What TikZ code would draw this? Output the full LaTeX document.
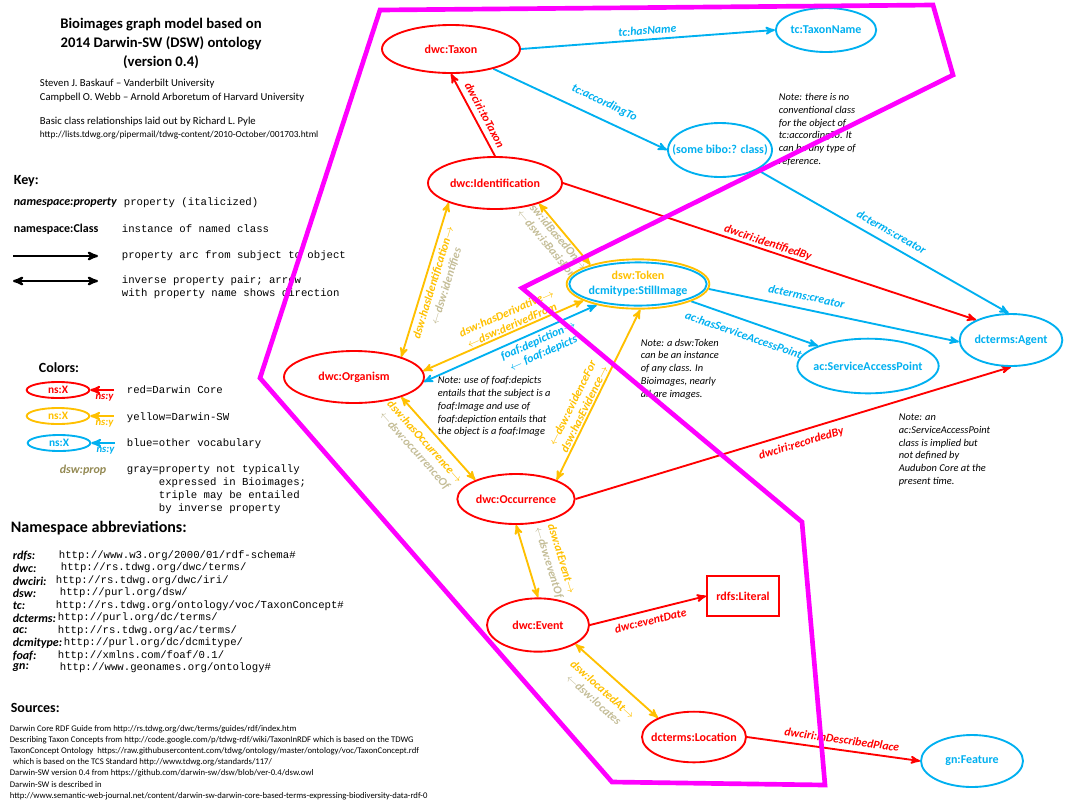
\documentclass[tikz,border=0pt]{standalone}
\usepackage{fontspec}
\setmainfont{Carlito}
\setmonofont{Liberation Mono}
\usetikzlibrary{arrows,%
                shapes.geometric,%
                backgrounds}

\definecolor{dwcred}{HTML}{FF0000}
\definecolor{dswyel}{HTML}{FFC000}
\definecolor{othblu}{HTML}{00B0F0}
\definecolor{entgray}{HTML}{C4BD97}
\definecolor{keygray}{HTML}{948A54}
\definecolor{areamag}{HTML}{FF00FF}

\begin{document}
\begin{tikzpicture}[x=0.75pt, y=-0.75pt, >=stealth', line width=1.3pt]
    \tikzstyle{cls}=[ellipse, draw, line width=1.4pt, inner sep=0pt, font=\fontsize{9}{11}\selectfont\bfseries]
    \tikzstyle{dwcc}=[cls, draw=dwcred, text=dwcred, fill=white]
    \tikzstyle{dswc}=[cls, draw=dswyel, text=dswyel, fill=white]
    \tikzstyle{othc}=[cls, draw=othblu, text=othblu, fill=white]
    \tikzstyle{lit}=[rectangle, draw=dwcred, text=dwcred, fill=white, line width=1.4pt, inner sep=0pt, font=\fontsize{9}{11}\selectfont\bfseries]
    \tikzstyle{parc}=[line width=1.4pt]
    \tikzstyle{prop}=[font=\fontsize{8.8}{10}\selectfont\bfseries\itshape, inner sep=1pt, align=center]
    \tikzstyle{note}=[font=\fontsize{7.8}{9.6}\selectfont\itshape, align=left, anchor=west, inner sep=0pt]
    \tikzstyle{mono}=[font=\fontsize{8}{9.75}\selectfont\ttfamily, align=left, anchor=west, inner sep=0pt]
    \tikzstyle{head}=[font=\fontsize{10.5}{12}\selectfont\bfseries, anchor=west, inner sep=0pt]
    \tikzstyle{small}=[font=\fontsize{8}{10.5}\selectfont, anchor=west, inner sep=0pt]
    \tikzstyle{nspre}=[font=\fontsize{9}{10}\selectfont\bfseries\itshape, anchor=west, inner sep=0pt]
    \tikzstyle{keyell}=[ellipse, draw, line width=1.4pt, inner sep=0pt, minimum width=47pt, minimum height=12pt, font=\fontsize{8.5}{10}\selectfont\bfseries]
    \tikzstyle{nsy}=[font=\fontsize{8}{9}\selectfont\bfseries\itshape, inner sep=0pt, below=2.5pt, pos=0.4]

    \useasboundingbox (0,0) rectangle (1074,808);

    % title and credits
    \node[font=\fontsize{11}{14.25}\selectfont\bfseries, align=center] (title) at (161,43) {Bioimages graph model based on\\2014 Darwin-SW (DSW) ontology\\(version 0.4)};
    \node[small] (auth1) at (39,84) {Steven J. Baskauf -- Vanderbilt University};
    \node[small] (auth2) at (39,98) {Campbell O. Webb -- Arnold Arboretum of Harvard University};
    \node[small] (pyle) at (39,122) {Basic class relationships laid out by Richard L. Pyle};
    \node[small, font=\fontsize{7}{8}\selectfont] (pyleurl) at (39,135) {http://lists.tdwg.org/pipermail/tdwg-content/2010-October/001703.html};

    % key
    \node[head] (keyhd) at (13,181) {Key:};
    \node[nspre] (kprop) at (13,203) {namespace:property};
    \node[mono] (kproptxt) at (123,203) {property (italicized)};
    \node[nspre, font=\fontsize{9}{11}\selectfont\bfseries] (kcls) at (13,229) {namespace:Class};
    \node[mono] (kclstxt) at (121,229) {instance of named class};
    \coordinate (karc1) at (13,256);
    \coordinate (karc2) at (98,256);
    \draw[->, line width=1.6pt] (karc1) -- (karc2);
    \node[mono] (karctxt) at (121,256) {property arc from subject to object};
    \coordinate (kinv1) at (13,281);
    \coordinate (kinv2) at (98,281);
    \draw[<->, line width=1.6pt] (kinv1) -- (kinv2);
    \node[mono] (kinvtxt) at (121,287.5) {inverse property pair; arrow\\with property name shows direction};

    % colours
    \node[head] (colhd) at (38,368) {Colors:};
    \node[keyell, dwcred] (rx) at (58,390) {ns:X};
    \coordinate (ry) at (114,390);
    \draw[->, dwcred, line width=1.5pt] (ry) -- node[nsy] {ns:y} (rx);
    \node[mono] (rtxt) at (126,390) {red=Darwin Core};
    \node[keyell, dswyel] (yx) at (58,416) {ns:X};
    \coordinate (yy) at (114,416);
    \draw[->, dswyel, line width=1.5pt] (yy) -- node[nsy] {ns:y} (yx);
    \node[mono] (ytxt) at (126,418) {yellow=Darwin-SW};
    \node[keyell, othblu] (bx) at (59,443) {ns:X};
    \coordinate (by) at (115,443);
    \draw[->, othblu, line width=1.5pt] (by) -- node[nsy] {ns:y} (bx);
    \node[mono] (btxt) at (126,444) {blue=other vocabulary};
    \node[nspre, keygray, anchor=center] (gprop) at (83,470) {dsw:prop};
    \node[mono] (gtxt) at (126,489) {gray=property not typically\\\phantom{gray=}expressed in Bioimages;\\\phantom{gray=}triple may be entailed\\\phantom{gray=}by inverse property};

    % namespaces
    \node[head, font=\fontsize{12}{14}\selectfont\bfseries] (nshd) at (10,528) {Namespace abbreviations:};
    \node[nspre] (prdfs) at (12,556) {rdfs:};
    \node[mono] (urdfs) at (58,556) {http://www.w3.org/2000/01/rdf-schema\#};
    \node[nspre] (pdwc) at (12,568) {dwc:};
    \node[mono] (udwc) at (60,568) {http://rs.tdwg.org/dwc/terms/};
    \node[nspre] (pdwciri) at (12,581) {dwciri:};
    \node[mono] (udwciri) at (55,581) {http://rs.tdwg.org/dwc/iri/};
    \node[nspre] (pdsw) at (12,593) {dsw:};
    \node[mono] (udsw) at (59,593) {http://purl.org/dsw/};
    \node[nspre] (ptc) at (12,606) {tc:};
    \node[mono] (utc) at (55,606) {http://rs.tdwg.org/ontology/voc/TaxonConcept\#};
    \node[nspre] (pdcterms) at (12,618) {dcterms:};
    \node[mono] (udcterms) at (57,618) {http://purl.org/dc/terms/};
    \node[nspre] (pac) at (12,631) {ac:};
    \node[mono] (uac) at (57,631) {http://rs.tdwg.org/ac/terms/};
    \node[nspre] (pdcmi) at (12,643) {dcmitype:};
    \node[mono] (udcmi) at (63,643) {http://purl.org/dc/dcmitype/};
    \node[nspre] (pfoaf) at (12,656) {foaf:};
    \node[mono] (ufoaf) at (57,656) {http://xmlns.com/foaf/0.1/};
    \node[nspre] (pgn) at (12,668) {gn:};
    \node[mono] (ugn) at (59,668) {http://www.geonames.org/ontology\#};

    % sources
    \node[head] (srchd) at (10,708) {Sources:};
    \node[anchor=west, inner sep=0pt, align=left, font=\fontsize{6.5}{8.4}\selectfont] (srcs) at (9,762.5) {Darwin Core RDF Guide from http://rs.tdwg.org/dwc/terms/guides/rdf/index.htm\\Describing Taxon Concepts from http://code.google.com/p/tdwg-rdf/wiki/TaxonInRDF which is based on the TDWG\\TaxonConcept Ontology\ \ https://raw.githubusercontent.com/tdwg/ontology/master/ontology/voc/TaxonConcept.rdf\\\hspace*{2.5pt}which is based on the TCS Standard http://www.tdwg.org/standards/117/\\Darwin-SW version 0.4 from https://github.com/darwin-sw/dsw/blob/ver-0.4/dsw.owl\\Darwin-SW is described in\\http://www.semantic-web-journal.net/content/darwin-sw-darwin-core-based-terms-expressing-biodiversity-data-rdf-0};

    % classes
    \node[dwcc, minimum width=103.5pt, minimum height=36pt] (tax) at (451,49) {dwc:Taxon};
    \node[othc, minimum width=72.75pt, minimum height=33pt] (tname) at (826,30) {tc:TaxonName};
    \node[othc, minimum width=78pt, minimum height=40.5pt, inner xsep=-9pt] (bibo) at (720,150) {(some bibo:? class)};
    \node[dwcc, minimum width=100.5pt, minimum height=39pt] (ident) at (495,183) {dwc:Identification};
    \node[dswc, minimum width=107pt, minimum height=37pt, align=center] (tok) at (638,284) {dsw:Token\\\textcolor{othblu}{dcmitype:StillImage}};
    \draw[othblu, line width=1.4pt] (tok.center) ellipse [x radius=51.5pt, y radius=16.2pt];
    \node[dwcc, minimum width=105pt, minimum height=39pt] (org) at (354,377) {dwc:Organism};
    \node[othc, minimum width=106pt, minimum height=41pt, inner xsep=-4pt] (sap) at (868,366) {ac:ServiceAccessPoint};
    \node[othc, minimum width=77pt, minimum height=39pt, inner xsep=-1pt] (agent) at (1011,340) {dcterms:Agent};
    \node[dwcc, minimum width=88pt, minimum height=37.5pt] (occ) at (516,499) {dwc:Occurrence};
    \node[dwcc, minimum width=76.5pt, minimum height=40pt] (event) at (538,625) {dwc:Event};
    \node[lit, minimum width=54pt, minimum height=30pt] (literal) at (743,596) {rdfs:Literal};
    \node[dwcc, minimum width=78pt, minimum height=38pt, inner xsep=-5pt] (loc) at (694,737) {dcterms:Location};
    \node[othc, minimum width=76.5pt, minimum height=39pt] (feat) at (972,761) {gn:Feature};

    % properties
    \begin{scope}[on background layer]
    \draw[parc, ->, othblu] (tax.east) -- node[prop, sloped, above=2pt] {tc:hasName} (tname.west);
    \draw[parc, ->, othblu] (tax) -- node[prop, sloped, above=6.5pt, pos=0.6] {tc:accordingTo} (bibo.west);
    \draw[parc, ->, dwcred] (ident.north) -- node[prop, sloped, above=3pt, pos=0.44] {dwciri:toTaxon} (tax.south);
    \draw[parc, ->, dwcred] (ident.east) -- node[prop, sloped, above=0pt, pos=0.49] {dwciri:identifiedBy} (agent.150);
    \draw[parc, ->, othblu] (bibo.-28) -- node[prop, sloped, above=4.4pt, pos=0.51] {dcterms:creator} (agent.95);
    \draw[parc, ->, othblu] (tok.-4) -- node[prop, sloped, above=5pt, pos=0.38] {dcterms:creator} (agent.182);
    \draw[parc, ->, othblu] (tok.-18) -- node[prop, sloped, below=6pt, pos=0.45] {ac:hasServiceAccessPoint} (sap.158);
    \draw[parc, <->, dswyel] (ident.-25) -- node[prop, sloped, below=0pt, pos=0.44, entgray] {dsw:idBasedOn$\rightarrow$\\$\leftarrow$dsw:isBasisFor} (tok.158);
    \draw[parc, <->, dswyel] (org.23) -- node[prop, sloped, below=1.5pt, pos=0.5] {dsw:hasIdentification$\rightarrow$\\\textcolor{entgray}{$\leftarrow$dsw:identifies}} (ident.203);
    \draw[parc, <->, dswyel] (org.5) -- node[prop, sloped, above=0pt, pos=0.57] {dsw:hasDerivative$\rightarrow$\\$\leftarrow$dsw:derivedFrom} (tok.197);
    \draw[parc, <->, othblu] (org.-4) -- node[prop, sloped, below=1.5pt, pos=0.64] {foaf:depiction$\rightarrow$\\$\leftarrow$ foaf:depicts} (tok.207);
    \draw[parc, <->, dswyel] (org.-23) -- node[prop, sloped, below=4pt, pos=0.44] {dsw:hasOccurrence$\rightarrow$\\\textcolor{entgray}{$\leftarrow$dsw:occurrenceOf}} (occ.155);
    \draw[parc, <->, dswyel] (occ.25) -- node[prop, sloped, above=0pt, pos=0.4] {$\leftarrow$dsw:evidenceFor\\dsw:hasEvidence$\rightarrow$} (tok.-85);
    \draw[parc, ->, dwcred] (occ.east) -- node[prop, sloped, below=4pt, pos=0.51] {dwciri:recordedBy} (agent.south);
    \draw[parc, <->, dswyel] (occ.south) -- node[prop, sloped, above=10pt, pos=0.6] {dsw:atEvent$\rightarrow$\\\textcolor{entgray}{$\leftarrow$dsw:eventOf}} (event.north);
    \draw[parc, ->, dwcred] (event.east) -- node[prop, sloped, below=3pt, pos=0.5] {dwc:eventDate} (literal.west);
    \draw[parc, <->, dswyel] (event.-27) -- node[prop, sloped, below=7pt, pos=0.46] {dsw:locatedAt$\rightarrow$\\\textcolor{entgray}{$\leftarrow$dsw:locates}} (loc.152);
    \draw[parc, ->, dwcred] (loc.east) -- node[prop, sloped, above=3pt, pos=0.54] {dwciri:inDescribedPlace} (feat.west);
    \end{scope}

    % notes
    \node[note] (nbibo) at (778,129.5) {Note: there is no\\conventional class\\for the object of\\tc:accordingTo. It\\can be any type of\\reference.};
    \node[note] (ntok) at (640,369) {Note: a dsw:Token\\can be an instance\\of any class. In\\Bioimages, nearly\\all are images.};
    \node[note] (nfoaf) at (437,406.5) {Note: use of foaf:depicts\\entails that the subject is a\\foaf:Image and use of\\foaf:depiction entails that\\the object is a foaf:Image};
    \node[note] (nsap) at (898,450) {Note: an\\ac:ServiceAccessPoint\\class is implied but\\not defined by\\Audubon Core at the\\present time.};

    % Bioimages boundary
    \draw[areamag, line width=3.5pt] (380,10) -- (933,5) -- (953,75) -- (522,288) -- (802,522) -- (825,785) -- (612,782) -- (260,378) -- cycle;

\end{tikzpicture}
\end{document}
